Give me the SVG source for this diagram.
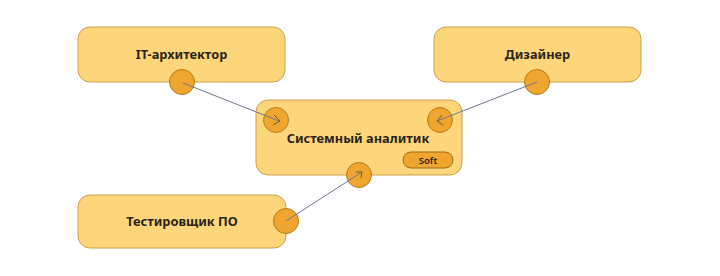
<svg xmlns="http://www.w3.org/2000/svg" width="720" height="276" viewBox="0 0 720 276">
<defs>
<style>
.box{fill:#fdd67c;stroke:#c9a04e;stroke-width:1}
.port{fill:#f0a62e;stroke:#b27b1c;stroke-width:1}
.lbl{font-family:"Noto Sans","Open Sans",sans-serif;font-weight:bold;font-size:12.8px;fill:#2a2418;text-anchor:middle}
.soft{fill:#f0a62e;stroke:#9b6c16;stroke-width:1}
.softt{font-family:"Noto Sans",sans-serif;font-weight:600;font-size:9.5px;fill:#2a2418;text-anchor:middle}
.edge{stroke:#6f7790;stroke-width:1;fill:none}
.chev{stroke:#6a5a3a;stroke-width:1;fill:none}
</style>
</defs>
<rect width="720" height="276" fill="#ffffff"/>
<g id="node-it">
<rect class="box" x="78" y="27" width="207" height="55" rx="12"/>
<text class="lbl" x="181.5" y="59">IT-архитектор</text>
<circle class="port" cx="182" cy="82" r="12.5"/>
</g>
<g id="node-designer">
<rect class="box" x="434" y="27" width="207" height="55" rx="12"/>
<text class="lbl" x="537.5" y="59">Дизайнер</text>
<circle class="port" cx="537" cy="82" r="12.5"/>
</g>
<g id="node-tester">
<rect class="box" x="78" y="195" width="208" height="53" rx="12"/>
<text class="lbl" x="182" y="226">Тестировщик ПО</text>
<circle class="port" cx="286" cy="221" r="12.5"/>
</g>
<g id="node-analyst">
<rect class="box" x="256" y="100" width="206" height="75" rx="12"/>
<text class="lbl" x="358" y="143">Системный аналитик</text>
<rect class="soft" x="403" y="152" width="50" height="16" rx="8"/>
<text class="softt" x="428" y="163.5">Soft</text>
<circle class="port" cx="276" cy="120" r="12.5"/>
<circle class="port" cx="440" cy="120" r="12.5"/>
<circle class="port" cx="359" cy="175" r="12.5"/>
</g>
<g id="connectors">
<line class="edge" x1="183" y1="83" x2="279" y2="121"/>
<polyline class="chev" points="274,115 280,121 273,125"/>
<line class="edge" x1="537" y1="82" x2="437" y2="121"/>
<polyline class="chev" points="442,115 437,121 443,125"/>
<line class="edge" x1="286" y1="221" x2="362" y2="172"/>
<polyline class="chev" points="356,172 362,172 361,178"/>
</g>
</svg>
